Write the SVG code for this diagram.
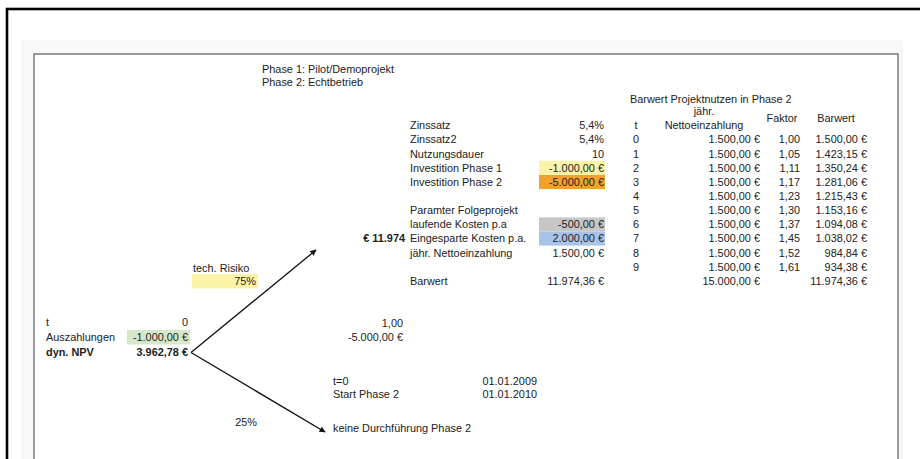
<svg xmlns="http://www.w3.org/2000/svg" width="920" height="459" viewBox="0 0 920 459">
<defs>
<style>
text{font-family:"Liberation Sans",Arial,sans-serif;font-size:10.9px;fill:#222}
.r{text-anchor:end}
.m{text-anchor:middle}
.b{font-weight:bold}
.arr{stroke:#111;stroke-width:1.3;fill:none;marker-end:url(#ah)}
</style>
<marker id="ah" viewBox="0 0 10 10" refX="9" refY="5" markerWidth="7" markerHeight="6" orient="auto" markerUnits="userSpaceOnUse">
<path d="M0,0 L10,5 L0,10 z" fill="#111"/>
</marker>
</defs>
<rect x="0" y="0" width="920" height="459" fill="#fff"/>
<rect x="7" y="9" width="930" height="470" fill="#fff" stroke="#000" stroke-width="2.6"/>
<rect x="21" y="40" width="882" height="430" fill="#f8f8f8"/>
<rect x="34" y="54" width="864" height="420" fill="#fff" stroke="#7a7a7a" stroke-width="1.5"/>

<g id="phases">
<text x="262" y="73">Phase 1: Pilot/Demoprojekt</text>
<text x="262" y="85.5">Phase 2: Echtbetrieb</text>
</g>

<g id="params">
<rect x="539" y="160.8" width="66" height="14.1" fill="#fbf3a6"/>
<rect x="539" y="175" width="66" height="14.1" fill="#f2a130"/>
<rect x="539" y="217.4" width="66" height="14.1" fill="#c6c6c6"/>
<rect x="539" y="231.5" width="66" height="14.1" fill="#a9c3e8"/>
<text x="410" y="129.3">Zinssatz</text><text class="r" x="604" y="129.3">5,4%</text>
<text x="410" y="143.4">Zinssatz2</text><text class="r" x="604" y="143.4">5,4%</text>
<text x="410" y="157.6">Nutzungsdauer</text><text class="r" x="604" y="157.6">10</text>
<text x="410" y="171.7">Investition Phase 1</text><text class="r" x="604" y="171.7">-1.000,00 €</text>
<text x="410" y="185.9">Investition Phase 2</text><text class="r" x="604" y="185.9">-5.000,00 €</text>
<text x="410" y="214.1">Paramter Folgeprojekt</text>
<text x="410" y="228.3">laufende Kosten p.a</text><text class="r" x="604" y="228.3">-500,00 €</text>
<text x="410" y="242.4">Eingesparte Kosten p.a.</text><text class="r" x="604" y="242.4">2.000,00 €</text>
<text x="410" y="256.6">jähr. Nettoeinzahlung</text><text class="r" x="604" y="256.6">1.500,00 €</text>
<text x="410" y="284.8">Barwert</text><text class="r" x="604" y="284.8">11.974,36 €</text>
</g>

<g id="node-phase2">
<text class="r b" x="405" y="242.4">€ 11.974</text>
<text class="r" x="403" y="327">1,00</text>
<text class="r" x="403" y="340.5">-5.000,00 €</text>
</g>

<g id="barwert-table">
<text x="630" y="103">Barwert Projektnutzen in Phase 2</text>
<text class="m" x="704" y="115">jähr.</text>
<text class="m" x="704" y="129.3">Nettoeinzahlung</text>
<text class="m" x="636" y="129.3">t</text>
<text class="m" x="782" y="122">Faktor</text>
<text class="m" x="836" y="122">Barwert</text>
<text class="m" x="636" y="143.4">0</text><text class="r" x="760" y="143.4">1.500,00 €</text><text class="r" x="800" y="143.4">1,00</text><text class="r" x="867" y="143.4">1.500,00 €</text>
<text class="m" x="636" y="157.6">1</text><text class="r" x="760" y="157.6">1.500,00 €</text><text class="r" x="800" y="157.6">1,05</text><text class="r" x="867" y="157.6">1.423,15 €</text>
<text class="m" x="636" y="171.7">2</text><text class="r" x="760" y="171.7">1.500,00 €</text><text class="r" x="800" y="171.7">1,11</text><text class="r" x="867" y="171.7">1.350,24 €</text>
<text class="m" x="636" y="185.9">3</text><text class="r" x="760" y="185.9">1.500,00 €</text><text class="r" x="800" y="185.9">1,17</text><text class="r" x="867" y="185.9">1.281,06 €</text>
<text class="m" x="636" y="200">4</text><text class="r" x="760" y="200">1.500,00 €</text><text class="r" x="800" y="200">1,23</text><text class="r" x="867" y="200">1.215,43 €</text>
<text class="m" x="636" y="214.1">5</text><text class="r" x="760" y="214.1">1.500,00 €</text><text class="r" x="800" y="214.1">1,30</text><text class="r" x="867" y="214.1">1.153,16 €</text>
<text class="m" x="636" y="228.3">6</text><text class="r" x="760" y="228.3">1.500,00 €</text><text class="r" x="800" y="228.3">1,37</text><text class="r" x="867" y="228.3">1.094,08 €</text>
<text class="m" x="636" y="242.4">7</text><text class="r" x="760" y="242.4">1.500,00 €</text><text class="r" x="800" y="242.4">1,45</text><text class="r" x="867" y="242.4">1.038,02 €</text>
<text class="m" x="636" y="256.6">8</text><text class="r" x="760" y="256.6">1.500,00 €</text><text class="r" x="800" y="256.6">1,52</text><text class="r" x="867" y="256.6">984,84 €</text>
<text class="m" x="636" y="270.7">9</text><text class="r" x="760" y="270.7">1.500,00 €</text><text class="r" x="800" y="270.7">1,61</text><text class="r" x="867" y="270.7">934,38 €</text>
<text class="r" x="760" y="284.8">15.000,00 €</text><text class="r" x="867" y="284.8">11.974,36 €</text>
</g>

<g id="node-root">
<rect x="127" y="330" width="63" height="14.5" fill="#d6e8c9"/>
<text x="46" y="326">t</text><text class="r" x="188" y="326">0</text>
<text x="46" y="341">Auszahlungen</text><text class="r" x="188" y="341">-1.000,00 €</text>
<text class="b" x="46" y="356">dyn. NPV</text><text class="r b" x="188" y="356">3.962,78 €</text>
</g>

<g id="risk">
<rect x="192" y="274" width="66" height="14.5" fill="#fbf3a6"/>
<text x="193" y="271.5">tech. Risiko</text>
<text class="r" x="256" y="285">75%</text>
<text class="r" x="257" y="426">25%</text>
</g>

<g id="dates">
<text x="333" y="385">t=0</text><text class="r" x="537" y="385">01.01.2009</text>
<text x="333" y="398">Start Phase 2</text><text class="r" x="537" y="398">01.01.2010</text>
</g>

<g id="node-no-phase2">
<text x="333" y="431.5">keine Durchführung Phase 2</text>
</g>

<g id="connectors">
<line class="arr" x1="191" y1="352.5" x2="316" y2="250"/>
<line class="arr" x1="191" y1="352.5" x2="325" y2="432"/>
</g>
</svg>
